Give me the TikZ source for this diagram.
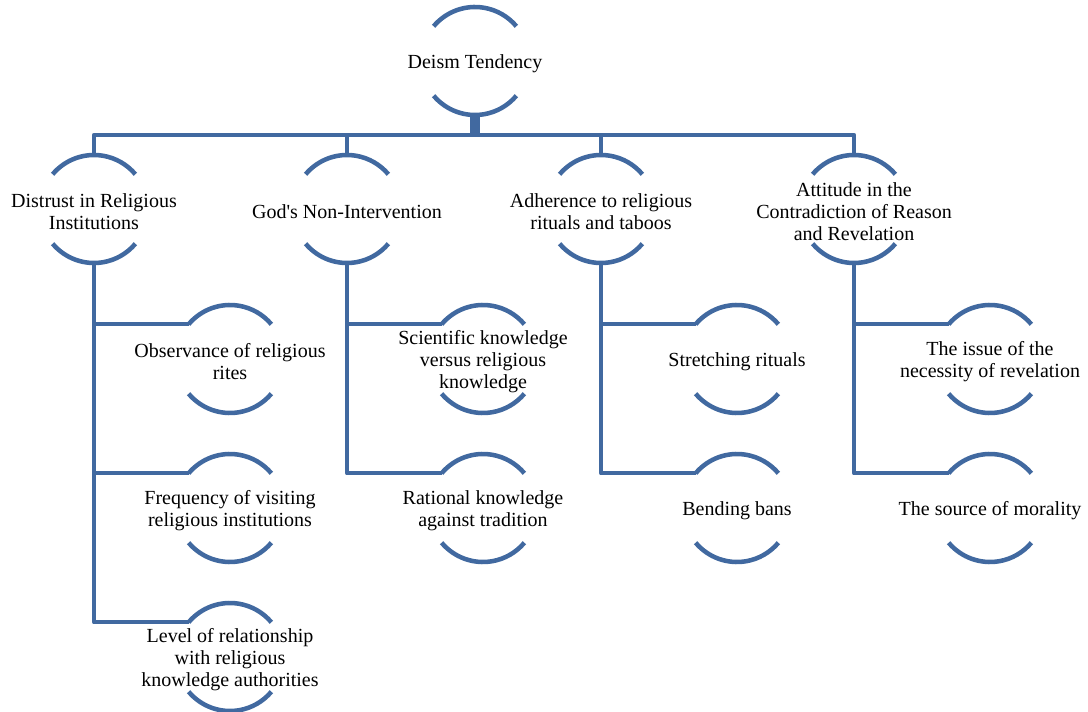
\documentclass[tikz,border=0pt]{standalone}
\usepackage{fontspec}
\setmainfont{Liberation Serif}
\definecolor{ringblue}{RGB}{65,105,160}
\tikzset{
  ring/.style={circle, minimum size=81pt, inner sep=0pt, outer sep=0pt},
  lbl/.style={align=center, inner sep=0pt, yshift=-2pt, font=\fontsize{15}{16.6}\selectfont},
  ringarc/.style={color=ringblue, line width=3.4pt},
  link/.style={color=ringblue, line width=3.2pt, line join=round},
  stem/.style={color=ringblue, line width=8pt}
}

\begin{document}
\begin{tikzpicture}[x=0.75pt,y=0.75pt]
\useasboundingbox (0,0) rectangle (1088,711);

% top
\node[ring, label={[lbl]center:Deism Tendency}] (top) at (475,650) {};

% first level
\node[ring, label={[lbl]center:Distrust in Religious\\Institutions}] (a) at (94,502) {};
\node[ring, label={[lbl]center:God\textquotesingle s Non-Intervention}] (b) at (347,502) {};
\node[ring, label={[lbl]center:Adherence to religious\\rituals and taboos}] (c) at (601,502) {};
\node[ring, label={[lbl]center:Attitude in the\\Contradiction of Reason\\and Revelation}] (d) at (854,502) {};

% second level
\node[ring, label={[lbl]center:Observance of religious\\rites}] (a1) at (230,352) {};
\node[ring, label={[lbl]center:Frequency of visiting\\religious institutions}] (a2) at (230,203) {};
\node[ring, label={[lbl]center:Level of relationship\\with religious\\knowledge authorities}] (a3) at (230,54) {};
\node[ring, label={[lbl]center:Scientific knowledge\\versus religious\\knowledge}] (b1) at (483,352) {};
\node[ring, label={[lbl]center:Rational knowledge\\against tradition}] (b2) at (483,203) {};
\node[ring, label={[lbl]center:Stretching rituals}] (c1) at (737,352) {};
\node[ring, label={[lbl]center:Bending bans}] (c2) at (737,203) {};
\node[ring, label={[lbl]center:The issue of the\\necessity of revelation}] (d1) at (990,352) {};
\node[ring, label={[lbl]center:The source of morality}] (d2) at (990,203) {};

% arcs round every node
\foreach \n in {top,a,b,c,d,a1,a2,a3,b1,b2,c1,c2,d1,d2}{
  \draw[ringarc] (\n.140) arc[start angle=140, end angle=40, radius=40.5pt];
  \draw[ringarc] (\n.220) arc[start angle=220, end angle=320, radius=40.5pt];
}

% connectors
\coordinate (bar) at (0,576);
\draw[stem] (top.south) -- (top.south |- bar);
\draw[link] (a.north) -- (a.north |- bar) -- (d.north |- bar) -- (d.north);
\foreach \n in {b,c}
  \draw[link] (\n.north) -- (\n.north |- bar);

\foreach \p/\q in {a/a1,a/a2,a/a3,b/b1,b/b2,c/c1,c/c2,d/d1,d/d2}
  \draw[link] (\p.south) |- (\q.140);
\end{tikzpicture}
\end{document}
